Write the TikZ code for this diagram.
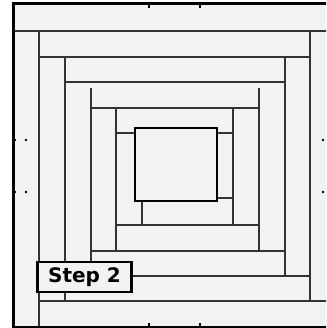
\documentclass[tikz,border=0pt]{standalone}
\usepackage{fontspec}
\newfontfamily\stepfont{DejaVu Sans}
\usepackage{tikz}
\definecolor{quiltbg}{HTML}{F1F2F2}
\definecolor{seamgray}{HTML}{333333}

\begin{document}
\begin{tikzpicture}[
  x=1pt,y=-1pt,
  seam/.style={draw=seamgray,line width=1.7pt},
  edge/.style={draw=black,line width=3pt},
  centre/.style={draw=black,line width=2.6pt},
  tick/.style={draw=black,line width=1.4pt},
  dotmark/.style={fill=black},
  steplabel/.style={draw=black,line width=2.6pt,fill=quiltbg,minimum width=94pt,minimum height=30pt,inner sep=0pt,font=\stepfont\bfseries\fontsize{20}{22}\selectfont},
]
  \useasboundingbox (0,0) rectangle (326,328);
  \clip (0,0) rectangle (326,328);
  \fill[quiltbg] (13,4) rectangle (336,327);

  % Ring 1
  \draw[seam] (13,31) -- (336,31);
  \draw[seam] (310,31) -- (310,301);
  \draw[seam] (39,301) -- (336,301);
  \draw[seam] (39,31) -- (39,327);

  % Ring 2
  \draw[seam] (39,57) -- (310,57);
  \draw[seam] (285,57) -- (285,276);
  \draw[seam] (65,276) -- (310,276);
  \draw[seam] (65,57) -- (65,301);

  % Ring 3
  \draw[seam] (65,82) -- (285,82);
  \draw[seam] (259,88) -- (259,251);
  \draw[seam] (91,251) -- (285,251);
  \draw[seam] (91,88) -- (91,276);

  % Ring 4
  \draw[seam] (91,108) -- (259,108);
  \draw[seam] (233,108) -- (233,225);
  \draw[seam] (116,225) -- (259,225);
  \draw[seam] (116,108) -- (116,251);

  % Ring 5
  \draw[seam] (116,133) -- (233,133);
  \draw[seam] (142,198) -- (233,198);
  \draw[seam] (142,133) -- (142,225);

  % centre block
  \draw[centre,fill=quiltbg] (135,128) rectangle (217,201);

  % outer edge with marks
  \draw[edge] (13,4) rectangle (336,327);
  \draw[tick] (149,4) -- (149,8) (200,4) -- (200,8);
  \draw[tick] (149,327) -- (149,323) (200,327) -- (200,323);
  \draw[tick] (13,140) -- (16,140) (13,192) -- (16,192);
  \fill[dotmark] (26,140) circle (1.3) (26,192) circle (1.3);
  \fill[dotmark] (323,140) circle (1.3) (323,192) circle (1.3);

  \node[steplabel] (step) at (84.5,277) {Step 2};
\end{tikzpicture}
\end{document}
